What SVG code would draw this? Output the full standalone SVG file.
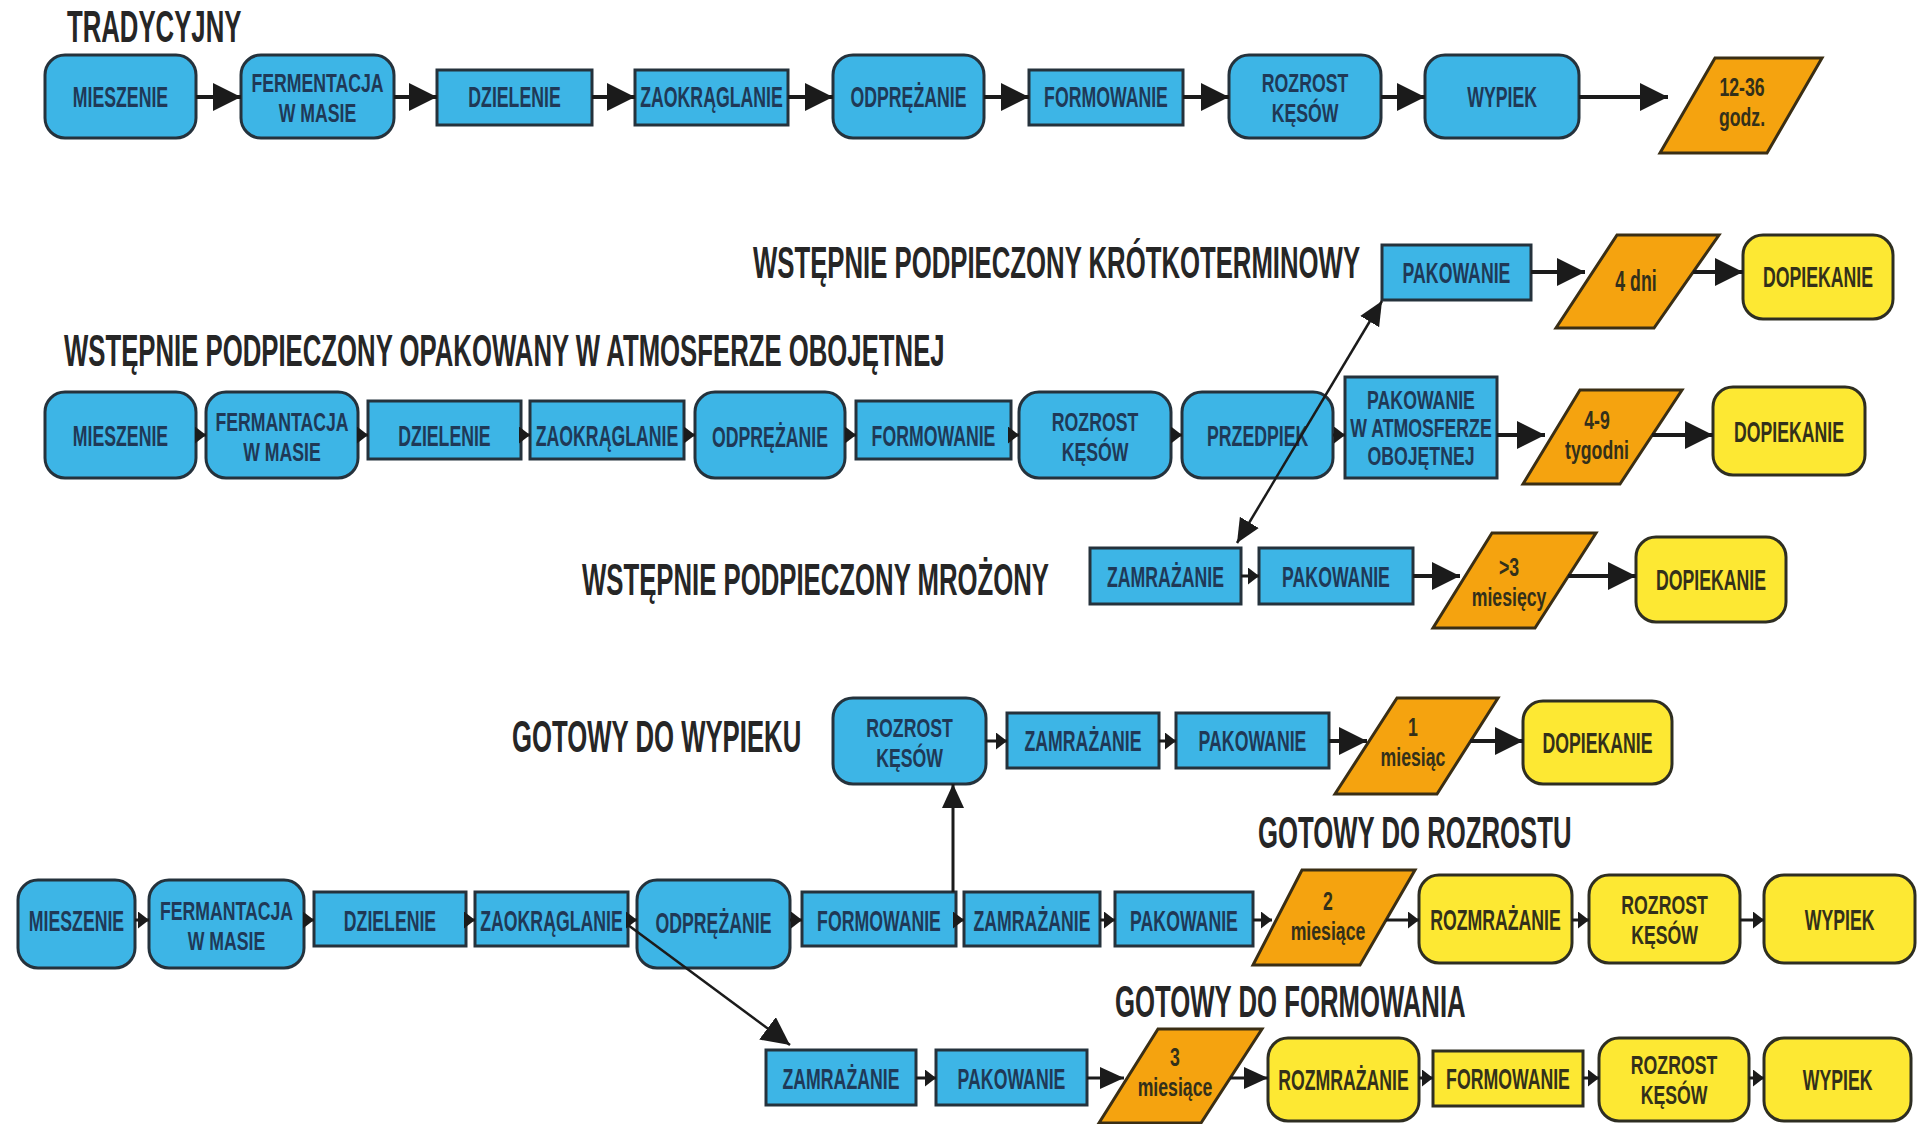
<svg xmlns="http://www.w3.org/2000/svg" width="1921" height="1124" viewBox="0 0 1921 1124">
  <defs>
    <style>
      .b { fill: #3db5e6; stroke: #25323c; stroke-width: 3; }
      .y { fill: #fde833; stroke: #2e2e22; stroke-width: 3; }
      .o { fill: #f5a30f; stroke: #3a2e14; stroke-width: 3; }
      .t { font-family: "Liberation Sans", "DejaVu Sans", sans-serif; font-weight: bold; font-size: 29px; fill: #1f3957; text-anchor: middle;
           transform-box: fill-box; transform-origin: center; transform: scaleX(0.61); }
      .t2 { font-size: 26.5px; transform: scaleX(0.667); }
      .t3 { font-size: 25px; transform: scaleX(0.708); }
      .ty { fill: #33301a; }
      .h { font-family: "Liberation Sans", "DejaVu Sans", sans-serif; font-weight: bold; font-size: 44px; fill: #262626;
           transform-box: fill-box; transform-origin: left center; transform: scaleX(0.585); }
      .c { stroke: #1b1b1b; stroke-width: 3; fill: none; }
      .c4 { stroke-width: 4; }
      .c2 { stroke-width: 2.5; }
    </style>
    <marker id="ah" markerUnits="userSpaceOnUse" markerWidth="28" markerHeight="28" refX="28" refY="14" orient="auto-start-reverse">
      <path d="M0,0 L28,14 L0,28 z" fill="#1b1b1b"/>
    </marker>
    <marker id="am" markerUnits="userSpaceOnUse" markerWidth="24" markerHeight="22" refX="24" refY="11" orient="auto-start-reverse">
      <path d="M0,0 L24,11 L0,22 z" fill="#1b1b1b"/>
    </marker>
    <marker id="as" markerUnits="userSpaceOnUse" markerWidth="11" markerHeight="17" refX="11" refY="8.5" orient="auto">
      <path d="M0,0 L11,8.5 L0,17 z" fill="#1b1b1b"/>
    </marker>
  </defs>

  <rect x="0" y="0" width="1921" height="1124" fill="#ffffff"/>

  <!-- section titles -->
  <g id="titles">
    <text class="h" x="67" y="42">TRADYCYJNY</text>
    <text class="h" x="753" y="278">WSTĘPNIE PODPIECZONY KRÓTKOTERMINOWY</text>
    <text class="h" x="64" y="366">WSTĘPNIE PODPIECZONY OPAKOWANY W ATMOSFERZE OBOJĘTNEJ</text>
    <text class="h" x="582" y="595">WSTĘPNIE PODPIECZONY MROŻONY</text>
    <text class="h" x="512" y="752">GOTOWY DO WYPIEKU</text>
    <text class="h" x="1258" y="848">GOTOWY DO ROZROSTU</text>
    <text class="h" x="1115" y="1017">GOTOWY DO FORMOWANIA</text>
  </g>

  <!-- ===== TRADYCYJNY ===== -->
  <g id="n1-mieszenie"><rect class="b" x="45" y="55" width="151" height="83" rx="20"/><text class="t" x="120.5" y="107">MIESZENIE</text></g>
  <g id="n1-fermentacja"><rect class="b" x="241" y="55" width="153" height="83" rx="20"/><text class="t t2"><tspan x="317.5" y="92.5">FERMENTACJA</tspan><tspan x="317.5" y="122.5">W MASIE</tspan></text></g>
  <g id="n1-dzielenie"><rect class="b" x="437" y="70" width="155" height="55"/><text class="t" x="514.5" y="107">DZIELENIE</text></g>
  <g id="n1-zaokraglanie"><rect class="b" x="635" y="70" width="153" height="55"/><text class="t" x="711.5" y="107">ZAOKRĄGLANIE</text></g>
  <g id="n1-odprezanie"><rect class="b" x="833" y="55" width="151" height="83" rx="20"/><text class="t" x="908.5" y="107">ODPRĘŻANIE</text></g>
  <g id="n1-formowanie"><rect class="b" x="1029" y="70" width="154" height="55"/><text class="t" x="1106" y="107">FORMOWANIE</text></g>
  <g id="n1-rozrost"><rect class="b" x="1229" y="55" width="152" height="83" rx="20"/><text class="t t2"><tspan x="1305" y="92.5">ROZROST</tspan><tspan x="1305" y="122.5">KĘSÓW</tspan></text></g>
  <g id="n1-wypiek"><rect class="b" x="1425" y="55" width="154" height="83" rx="20"/><text class="t" x="1502" y="107">WYPIEK</text></g>
  <g id="n1-czas"><polygon class="o" points="1715,58 1822,58 1767,153 1660,153"/><text class="t t2 ty"><tspan x="1742" y="96">12-36</tspan><tspan x="1742" y="126">godz.</tspan></text></g>

  <!-- ===== KRÓTKOTERMINOWY ===== -->
  <g id="n2a-pakowanie"><rect class="b" x="1382" y="245" width="149" height="55"/><text class="t" x="1456.5" y="283">PAKOWANIE</text></g>
  <g id="n2a-czas"><polygon class="o" points="1617,235 1719,235 1654,328 1556,328"/><text class="t ty" x="1636" y="291">4 dni</text></g>
  <g id="n2a-dopiekanie"><rect class="y" x="1743" y="235" width="150" height="84" rx="20"/><text class="t ty" x="1818" y="287">DOPIEKANIE</text></g>

  <!-- ===== ATMOSFERA OBOJĘTNA ===== -->
  <g id="n2-mieszenie"><rect class="b" x="45" y="392" width="151" height="86" rx="20"/><text class="t" x="120.5" y="446">MIESZENIE</text></g>
  <g id="n2-fermantacja"><rect class="b" x="206" y="392" width="152" height="86" rx="20"/><text class="t t2"><tspan x="282" y="431">FERMANTACJA</tspan><tspan x="282" y="461">W MASIE</tspan></text></g>
  <g id="n2-dzielenie"><rect class="b" x="368" y="401" width="153" height="58"/><text class="t" x="444.5" y="446">DZIELENIE</text></g>
  <g id="n2-zaokraglanie"><rect class="b" x="530" y="401" width="154" height="58"/><text class="t" x="607" y="446">ZAOKRĄGLANIE</text></g>
  <g id="n2-odprezanie"><rect class="b" x="695" y="392" width="150" height="86" rx="20"/><text class="t" x="770" y="447">ODPRĘŻANIE</text></g>
  <g id="n2-formowanie"><rect class="b" x="856" y="401" width="155" height="58"/><text class="t" x="933.5" y="446">FORMOWANIE</text></g>
  <g id="n2-rozrost"><rect class="b" x="1019" y="392" width="152" height="86" rx="20"/><text class="t t2"><tspan x="1095" y="431">ROZROST</tspan><tspan x="1095" y="461">KĘSÓW</tspan></text></g>
  <g id="n2-przedpiek"><rect class="b" x="1182" y="392" width="151" height="86" rx="20"/><text class="t" x="1257.5" y="446">PRZEDPIEK</text></g>
  <g id="n2-pakowanie-atm"><rect class="b" x="1345" y="377" width="152" height="101"/><text class="t t3"><tspan x="1421" y="409">PAKOWANIE</tspan><tspan x="1421" y="437.2">W ATMOSFERZE</tspan><tspan x="1421" y="465.4">OBOJĘTNEJ</tspan></text></g>
  <g id="n2-czas"><polygon class="o" points="1580,390 1682,390 1620,484 1523,484"/><text class="t t2 ty"><tspan x="1597" y="429">4-9</tspan><tspan x="1597" y="459">tygodni</tspan></text></g>
  <g id="n2-dopiekanie"><rect class="y" x="1713" y="387" width="152" height="88" rx="20"/><text class="t ty" x="1789" y="442">DOPIEKANIE</text></g>

  <!-- ===== MROŻONY ===== -->
  <g id="n3-zamrazanie"><rect class="b" x="1090" y="548" width="151" height="56"/><text class="t" x="1165.5" y="587">ZAMRAŻANIE</text></g>
  <g id="n3-pakowanie"><rect class="b" x="1259" y="548" width="154" height="56"/><text class="t" x="1336" y="587">PAKOWANIE</text></g>
  <g id="n3-czas"><polygon class="o" points="1492,533 1596,533 1535,628 1433,628"/><text class="t t2 ty"><tspan x="1509" y="576">&gt;3</tspan><tspan x="1509" y="606">miesięcy</tspan></text></g>
  <g id="n3-dopiekanie"><rect class="y" x="1636" y="537" width="150" height="85" rx="20"/><text class="t ty" x="1711" y="590">DOPIEKANIE</text></g>

  <!-- ===== GOTOWY DO WYPIEKU ===== -->
  <g id="n4a-rozrost"><rect class="b" x="833" y="698" width="153" height="86" rx="20"/><text class="t t2"><tspan x="909.5" y="737">ROZROST</tspan><tspan x="909.5" y="767">KĘSÓW</tspan></text></g>
  <g id="n4a-zamrazanie"><rect class="b" x="1007" y="713" width="152" height="55"/><text class="t" x="1083" y="751">ZAMRAŻANIE</text></g>
  <g id="n4a-pakowanie"><rect class="b" x="1176" y="713" width="153" height="55"/><text class="t" x="1252.5" y="751">PAKOWANIE</text></g>
  <g id="n4a-czas"><polygon class="o" points="1397,698 1498,698 1437,794 1335,794"/><text class="t t2 ty"><tspan x="1413" y="736">1</tspan><tspan x="1413" y="766">miesiąc</tspan></text></g>
  <g id="n4a-dopiekanie"><rect class="y" x="1523" y="701" width="149" height="83" rx="20"/><text class="t ty" x="1597.5" y="753">DOPIEKANIE</text></g>

  <!-- ===== GOTOWY DO ROZROSTU ===== -->
  <g id="n4-mieszenie"><rect class="b" x="18" y="880" width="117" height="88" rx="20"/><text class="t" x="76.5" y="931">MIESZENIE</text></g>
  <g id="n4-fermantacja"><rect class="b" x="149" y="880" width="155" height="88" rx="20"/><text class="t t2"><tspan x="226.5" y="920">FERMANTACJA</tspan><tspan x="226.5" y="950">W MASIE</tspan></text></g>
  <g id="n4-dzielenie"><rect class="b" x="314" y="892" width="152" height="54"/><text class="t" x="390" y="931">DZIELENIE</text></g>
  <g id="n4-zaokraglanie"><rect class="b" x="475" y="892" width="153" height="54"/><text class="t" x="551.5" y="931">ZAOKRĄGLANIE</text></g>
  <g id="n4-odprezanie"><rect class="b" x="637" y="880" width="153" height="88" rx="20"/><text class="t" x="713.5" y="933">ODPRĘŻANIE</text></g>
  <g id="n4-formowanie"><rect class="b" x="802" y="892" width="154" height="54"/><text class="t" x="879" y="931">FORMOWANIE</text></g>
  <g id="n4-zamrazanie"><rect class="b" x="964" y="892" width="136" height="54"/><text class="t" x="1032" y="931">ZAMRAŻANIE</text></g>
  <g id="n4-pakowanie"><rect class="b" x="1115" y="892" width="138" height="54"/><text class="t" x="1184" y="931">PAKOWANIE</text></g>
  <g id="n4-czas"><polygon class="o" points="1302,870 1415,870 1360,965 1253,965"/><text class="t t2 ty"><tspan x="1328" y="910">2</tspan><tspan x="1328" y="940">miesiące</tspan></text></g>
  <g id="n4-rozmrazanie"><rect class="y" x="1419" y="875" width="153" height="88" rx="20"/><text class="t ty" x="1495.5" y="930">ROZMRAŻANIE</text></g>
  <g id="n4-rozrost"><rect class="y" x="1589" y="875" width="151" height="88" rx="20"/><text class="t t2 ty"><tspan x="1664.5" y="914">ROZROST</tspan><tspan x="1664.5" y="944">KĘSÓW</tspan></text></g>
  <g id="n4-wypiek"><rect class="y" x="1764" y="875" width="151" height="88" rx="20"/><text class="t ty" x="1839.5" y="930">WYPIEK</text></g>

  <!-- ===== GOTOWY DO FORMOWANIA ===== -->
  <g id="n5-zamrazanie"><rect class="b" x="766" y="1050" width="150" height="55"/><text class="t" x="841" y="1089">ZAMRAŻANIE</text></g>
  <g id="n5-pakowanie"><rect class="b" x="936" y="1050" width="151" height="55"/><text class="t" x="1011.5" y="1089">PAKOWANIE</text></g>
  <g id="n5-czas"><polygon class="o" points="1158,1029 1262,1029 1201,1123 1099,1123"/><text class="t t2 ty"><tspan x="1175" y="1066">3</tspan><tspan x="1175" y="1096">miesiące</tspan></text></g>
  <g id="n5-rozmrazanie"><rect class="y" x="1268" y="1038" width="151" height="83" rx="20"/><text class="t ty" x="1343.5" y="1090">ROZMRAŻANIE</text></g>
  <g id="n5-formowanie"><rect class="y" x="1433" y="1051" width="150" height="55"/><text class="t ty" x="1508" y="1089">FORMOWANIE</text></g>
  <g id="n5-rozrost"><rect class="y" x="1599" y="1038" width="150" height="83" rx="20"/><text class="t t2 ty"><tspan x="1674" y="1074">ROZROST</tspan><tspan x="1674" y="1104">KĘSÓW</tspan></text></g>
  <g id="n5-wypiek"><rect class="y" x="1764" y="1038" width="147" height="83" rx="20"/><text class="t ty" x="1837.5" y="1090">WYPIEK</text></g>

  <!-- connectors, drawn over the boxes so the branch lines stay visible -->
  <g id="connectors">
    <!-- tradycyjny -->
    <line class="c c4" x1="196" y1="97" x2="241" y2="97" marker-end="url(#ah)"/>
    <line class="c c4" x1="394" y1="97" x2="437" y2="97" marker-end="url(#ah)"/>
    <line class="c c4" x1="592" y1="97" x2="635" y2="97" marker-end="url(#ah)"/>
    <line class="c c4" x1="788" y1="97" x2="833" y2="97" marker-end="url(#ah)"/>
    <line class="c c4" x1="984" y1="97" x2="1029" y2="97" marker-end="url(#ah)"/>
    <line class="c c4" x1="1183" y1="97" x2="1229" y2="97" marker-end="url(#ah)"/>
    <line class="c c4" x1="1381" y1="97" x2="1425" y2="97" marker-end="url(#ah)"/>
    <line class="c c4" x1="1579" y1="97" x2="1668" y2="97" marker-end="url(#ah)"/>

    <!-- krótkoterminowy -->
    <line class="c c4" x1="1531" y1="272" x2="1585" y2="272" marker-end="url(#ah)"/>
    <line class="c c4" x1="1693" y1="272" x2="1743" y2="272" marker-end="url(#ah)"/>

    <!-- atmosfera obojętna -->
    <line class="c" x1="196" y1="435" x2="206" y2="435" marker-end="url(#as)"/>
    <line class="c" x1="358" y1="435" x2="368" y2="435" marker-end="url(#as)"/>
    <line class="c" x1="521" y1="435" x2="530" y2="435" marker-end="url(#as)"/>
    <line class="c" x1="684" y1="435" x2="695" y2="435" marker-end="url(#as)"/>
    <line class="c" x1="845" y1="435" x2="856" y2="435" marker-end="url(#as)"/>
    <line class="c" x1="1011" y1="435" x2="1019" y2="435" marker-end="url(#as)"/>
    <line class="c" x1="1171" y1="435" x2="1182" y2="435" marker-end="url(#as)"/>
    <line class="c" x1="1333" y1="435" x2="1345" y2="435" marker-end="url(#as)"/>
    <line class="c c4" x1="1497" y1="435" x2="1545" y2="435" marker-end="url(#ah)"/>
    <line class="c c4" x1="1652" y1="435" x2="1713" y2="435" marker-end="url(#ah)"/>

    <!-- branch from przedpiek: up to krótkoterminowy, down to mrożony -->
    <line class="c c2" x1="1237" y1="543" x2="1382" y2="301" marker-start="url(#am)" marker-end="url(#am)"/>

    <!-- mrożony -->
    <line class="c" x1="1241" y1="576" x2="1259" y2="576" marker-end="url(#as)"/>
    <line class="c c4" x1="1413" y1="576" x2="1460" y2="576" marker-end="url(#ah)"/>
    <line class="c c4" x1="1568" y1="576" x2="1636" y2="576" marker-end="url(#ah)"/>

    <!-- gotowy do wypieku -->
    <line class="c" x1="986" y1="741" x2="1007" y2="741" marker-end="url(#as)"/>
    <line class="c" x1="1159" y1="741" x2="1176" y2="741" marker-end="url(#as)"/>
    <line class="c c4" x1="1329" y1="741" x2="1367" y2="741" marker-end="url(#ah)"/>
    <line class="c c4" x1="1470" y1="741" x2="1523" y2="741" marker-end="url(#ah)"/>
    <line class="c" x1="953" y1="892" x2="953" y2="784" marker-end="url(#am)"/>

    <!-- gotowy do rozrostu -->
    <line class="c" x1="135" y1="920" x2="149" y2="920" marker-end="url(#as)"/>
    <line class="c" x1="304" y1="920" x2="314" y2="920" marker-end="url(#as)"/>
    <line class="c" x1="466" y1="920" x2="475" y2="920" marker-end="url(#as)"/>
    <line class="c" x1="628" y1="920" x2="637" y2="920" marker-end="url(#as)"/>
    <line class="c" x1="790" y1="920" x2="802" y2="920" marker-end="url(#as)"/>
    <line class="c" x1="956" y1="920" x2="964" y2="920" marker-end="url(#as)"/>
    <line class="c" x1="1100" y1="920" x2="1115" y2="920" marker-end="url(#as)"/>
    <line class="c" x1="1253" y1="920" x2="1272" y2="920" marker-end="url(#as)"/>
    <line class="c" x1="1386" y1="920" x2="1419" y2="920" marker-end="url(#as)"/>
    <line class="c" x1="1572" y1="920" x2="1589" y2="920" marker-end="url(#as)"/>
    <line class="c" x1="1740" y1="920" x2="1764" y2="920" marker-end="url(#as)"/>

    <!-- branch to gotowy do formowania -->
    <line class="c c2" x1="628" y1="925" x2="790" y2="1045" marker-end="url(#ah)"/>

    <!-- gotowy do formowania -->
    <line class="c" x1="916" y1="1078" x2="936" y2="1078" marker-end="url(#as)"/>
    <line class="c" x1="1087" y1="1078" x2="1124" y2="1078" marker-end="url(#am)"/>
    <line class="c" x1="1230" y1="1078" x2="1268" y2="1078" marker-end="url(#am)"/>
    <line class="c" x1="1419" y1="1078" x2="1433" y2="1078" marker-end="url(#as)"/>
    <line class="c" x1="1583" y1="1078" x2="1599" y2="1078" marker-end="url(#as)"/>
    <line class="c" x1="1749" y1="1078" x2="1764" y2="1078" marker-end="url(#as)"/>
  </g>
</svg>
